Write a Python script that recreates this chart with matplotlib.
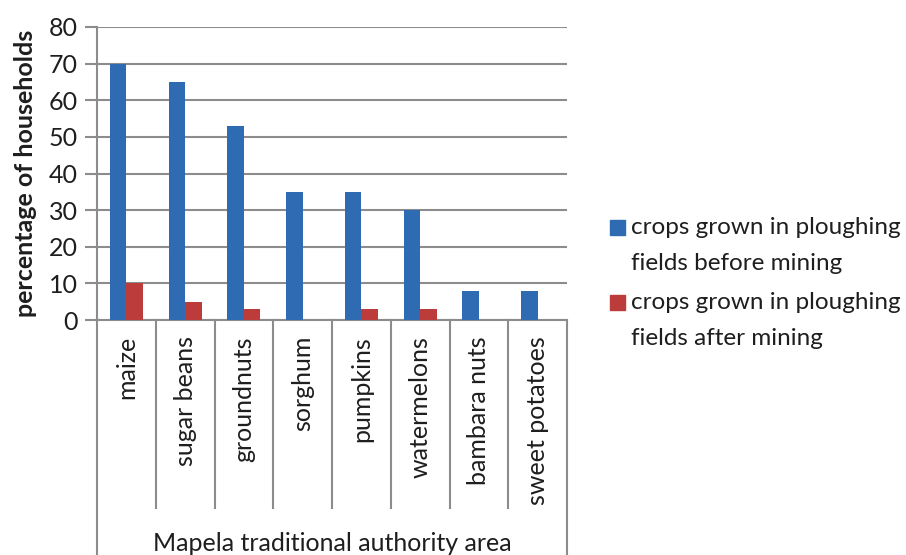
import matplotlib
matplotlib.use("Agg")
import matplotlib.pyplot as plt
from matplotlib.patches import Rectangle
import matplotlib.transforms as mtransforms

# Crop data for the Mapela area
crops = ["maize", "sugar beans", "groundnuts", "sorghum", "pumpkins",
         "watermelons", "bambara nuts", "sweet potatoes"]
before_mining = [70, 65, 53, 35, 35, 30, 8, 8]
after_mining = [10, 5, 3, 0, 3, 3, 0, 0]
series_labels = ["crops grown in ploughing\nfields before mining",
                 "crops grown in ploughing\nfields after mining"]

blue = "#2F6BB3"
red = "#BC3B3B"
grid_gray = "#8C8C8C"
txt = "#1E1E1E"
fs = 18

plt.rcParams["font.family"] = ["Lato", "DejaVu Sans"]

W, H = 906, 555
fig = plt.figure(figsize=(W / 100, H / 100), dpi=100)
ax = fig.add_axes([97 / W, 235 / H, 470 / W, 293 / H])

x = list(range(len(crops)))
w = 0.28
ax.bar([i - w / 2 for i in x], before_mining, width=w, color=blue, zorder=3)
ax.bar([i + w / 2 for i in x], after_mining, width=w, color=red, zorder=3)

ax.set_xlim(-0.5, len(crops) - 0.5)
ax.set_ylim(0, 80)
ax.set_yticks(range(0, 81, 10))
ax.yaxis.grid(True, color=grid_gray, linewidth=1.5, zorder=0)
ax.tick_params(axis="y", length=9, width=1.5, color=grid_gray, labelsize=fs,
               pad=5, labelcolor=txt)
for side in ["top", "right"]:
    ax.spines[side].set_visible(False)
for side in ["left", "bottom"]:
    ax.spines[side].set_color(grid_gray)
    ax.spines[side].set_linewidth(1.5)

ax.set_ylabel("percentage of households", fontsize=fs, fontweight="bold",
              labelpad=8, color=txt)

# category labels and the separator grid below the axis
ax.set_xticks([])
trans = mtransforms.blended_transform_factory(ax.transData, ax.transAxes)
for i, name in enumerate(crops):
    ax.text(i, -0.055, name, rotation=90, ha="center", va="top", fontsize=fs,
            color=txt, transform=trans)
for b in range(1, len(crops)):
    ax.plot([b - 0.5, b - 0.5], [0, -0.642], color=grid_gray, lw=1.5,
            transform=trans, clip_on=False)
for b in [-0.5, len(crops) - 0.5]:
    ax.plot([b, b], [0, -0.82], color=grid_gray, lw=1.5,
            transform=trans, clip_on=False)

ax.text(3.5, -0.762, "Mapela traditional authority area", ha="center",
        va="center", fontsize=fs, color=txt, transform=trans)

# legend: square swatch next to the first line of each two-line label
for k, (label, color) in enumerate(zip(series_labels, [blue, red])):
    top = 220 + k * 75
    fig.patches.append(Rectangle((610 / W, 1 - (top + 15) / H), 15 / W, 15 / H,
                                 color=color, transform=fig.transFigure))
    fig.text(631 / W, 1 - (top - 3) / H, label, ha="left", va="top",
             fontsize=17.5, color=txt, linespacing=1.9)

fig.savefig("out.png", dpi=100)
